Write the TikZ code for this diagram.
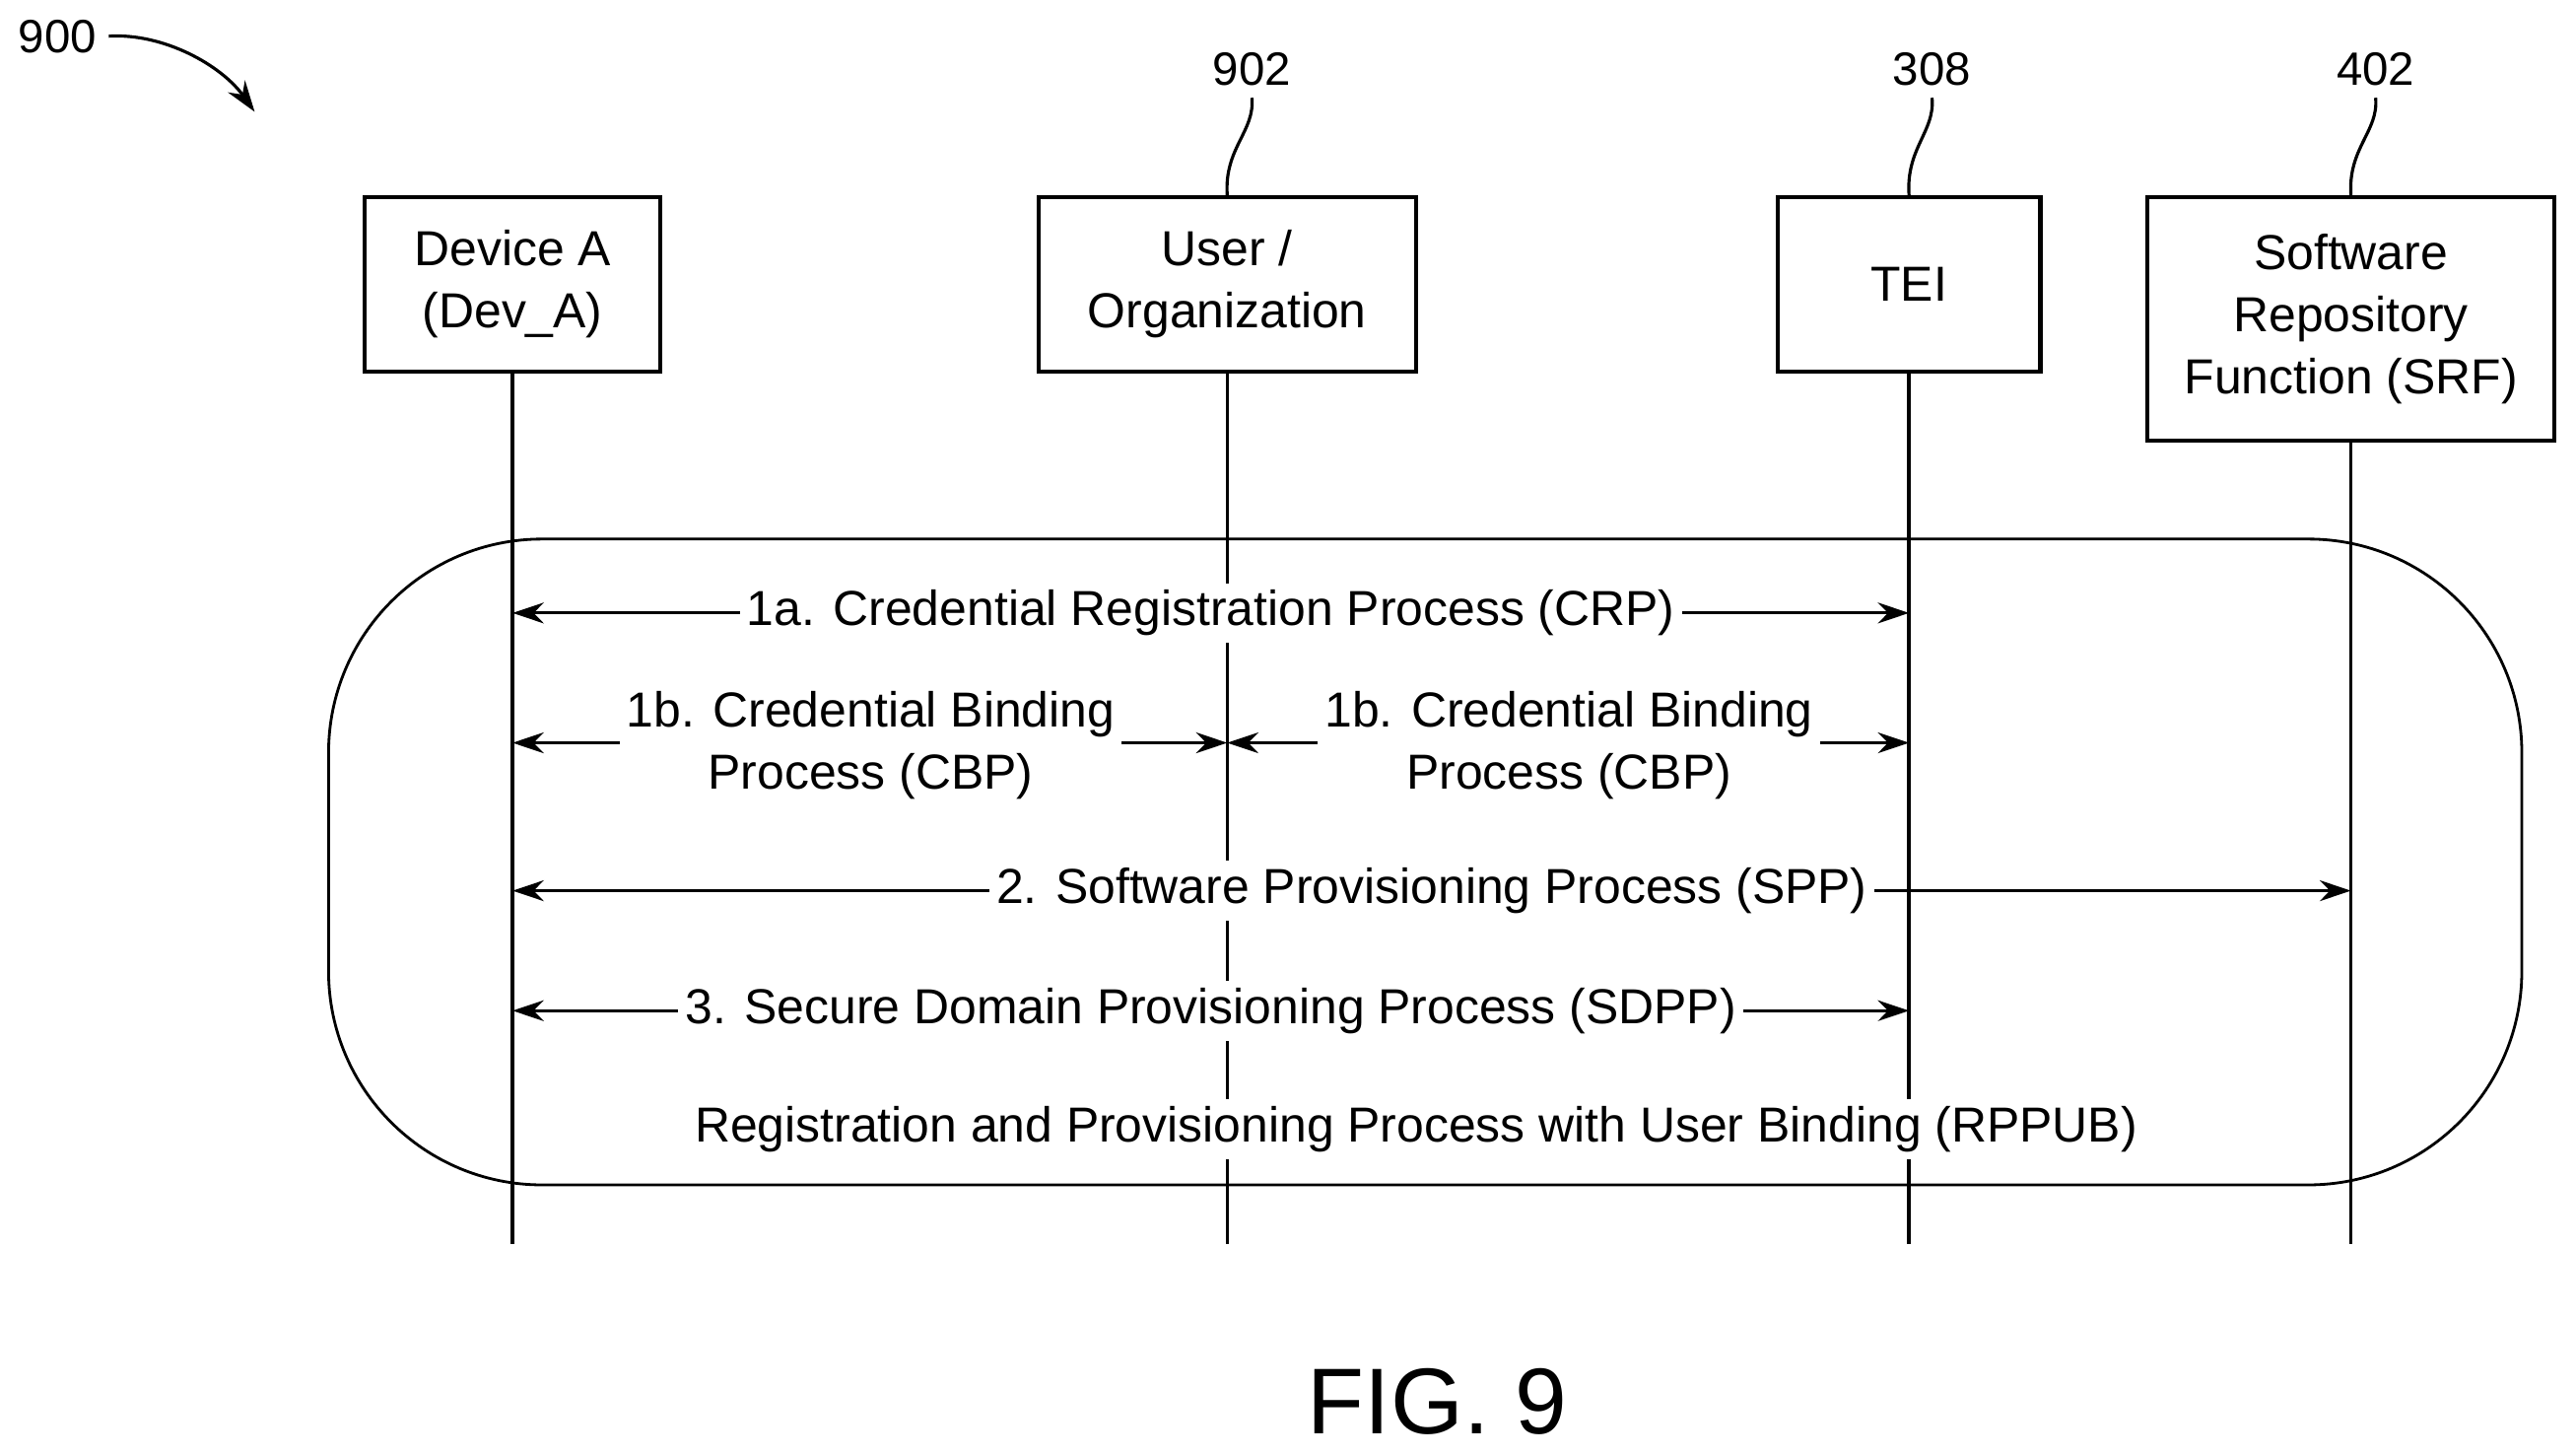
\documentclass[tikz,border=0pt]{standalone}
\usepackage{fontspec}
\setmainfont{Liberation Sans}
\usetikzlibrary{arrows.meta}
\begin{document}
\begin{tikzpicture}[x=0.016671cm,y=-0.016671cm,
 box/.style={draw,line width=1.2pt,minimum height=106*0.016671cm,align=center,font=\fontsize{14.2}{18}\selectfont},
 lbl/.style={fill=white,inner sep=2pt,align=center,font=\fontsize{14.2}{18}\selectfont},
 msg/.style={line width=0.9pt,{Stealth[length=9pt,width=6pt]}-{Stealth[length=9pt,width=6pt]}},
 life/.style={line width=1pt},
 ref/.style={font=\fontsize{13.5}{15}\selectfont}]
\useasboundingbox (0,0) rectangle (1568,885);
\node[box,minimum width=180*0.016671cm] (a) at (312,173) {Device A\\(Dev\_A)};
\node[box,minimum width=230*0.016671cm] (u) at (747,173) {User /\\Organization};
\node[box,minimum width=160*0.016671cm] (t) at (1162,173) {TEI};
\node[box,minimum width=248*0.016671cm,minimum height=148*0.016671cm] (s) at (1431,194) {Software\\Repository\\Function (SRF)};
\coordinate (ae) at (312,757); \coordinate (ue) at (747,757);
\coordinate (te) at (1162,757); \coordinate (se) at (1431,757);
\foreach \n in {a,u,t,s} \draw[life] (\n.south) -- (\n e);
\draw[line width=0.8pt,rounded corners=130*0.016671cm] (200,328) rectangle (1535,721);
\coordinate (a1) at (312,373); \coordinate (t1) at (1162,373);
\draw[msg] (a1) -- node[lbl,pos=0.5] (l1) {1a. Credential Registration Process (CRP)} (t1);
\coordinate (a2) at (312,452); \coordinate (u2) at (747,452); \coordinate (t2) at (1162,452);
\draw[msg] (a2) -- (u2);
\draw[msg] (u2) -- (t2);
\node[lbl,anchor=north] (l2) at (530,416) {1b. Credential Binding\\Process (CBP)};
\node[lbl,anchor=north] (l3) at (955,416) {1b. Credential Binding\\Process (CBP)};
\coordinate (a3) at (312,542); \coordinate (s3) at (1431,542);
\draw[msg] (a3) -- node[lbl,pos=0.5] (l4) {2. Software Provisioning Process (SPP)} (s3);
\coordinate (a4) at (312,615); \coordinate (t4) at (1162,615);
\draw[msg] (a4) -- node[lbl,pos=0.5] (l5) {3. Secure Domain Provisioning Process (SDPP)} (t4);
\node[lbl] (l6) at (862,687) {Registration and Provisioning Process with User Binding (RPPUB)};
\node[ref] (r900) at (35,22) {900};
\coordinate (p900) at (155,68);
\draw[line width=0.9pt,-{Stealth[length=9pt,width=6pt]}] (r900.east) .. controls (100,20) and (135,40) .. (p900);
\node[ref] (r902) at (762,42) {902};
\node[ref] (r308) at (1176,42) {308};
\node[ref] (r402) at (1446,42) {402};
\draw[line width=0.9pt] (r902.south) .. controls (764,80) and (745,90) .. (u.north);
\draw[line width=0.9pt] (r308.south) .. controls (1178,80) and (1160,90) .. (t.north);
\draw[line width=0.9pt] (r402.south) .. controls (1448,80) and (1429,90) .. (s.north);
\node[font=\fontsize{27}{30}\selectfont] (fig) at (875,853) {FIG. 9};
\end{tikzpicture}
\end{document}
